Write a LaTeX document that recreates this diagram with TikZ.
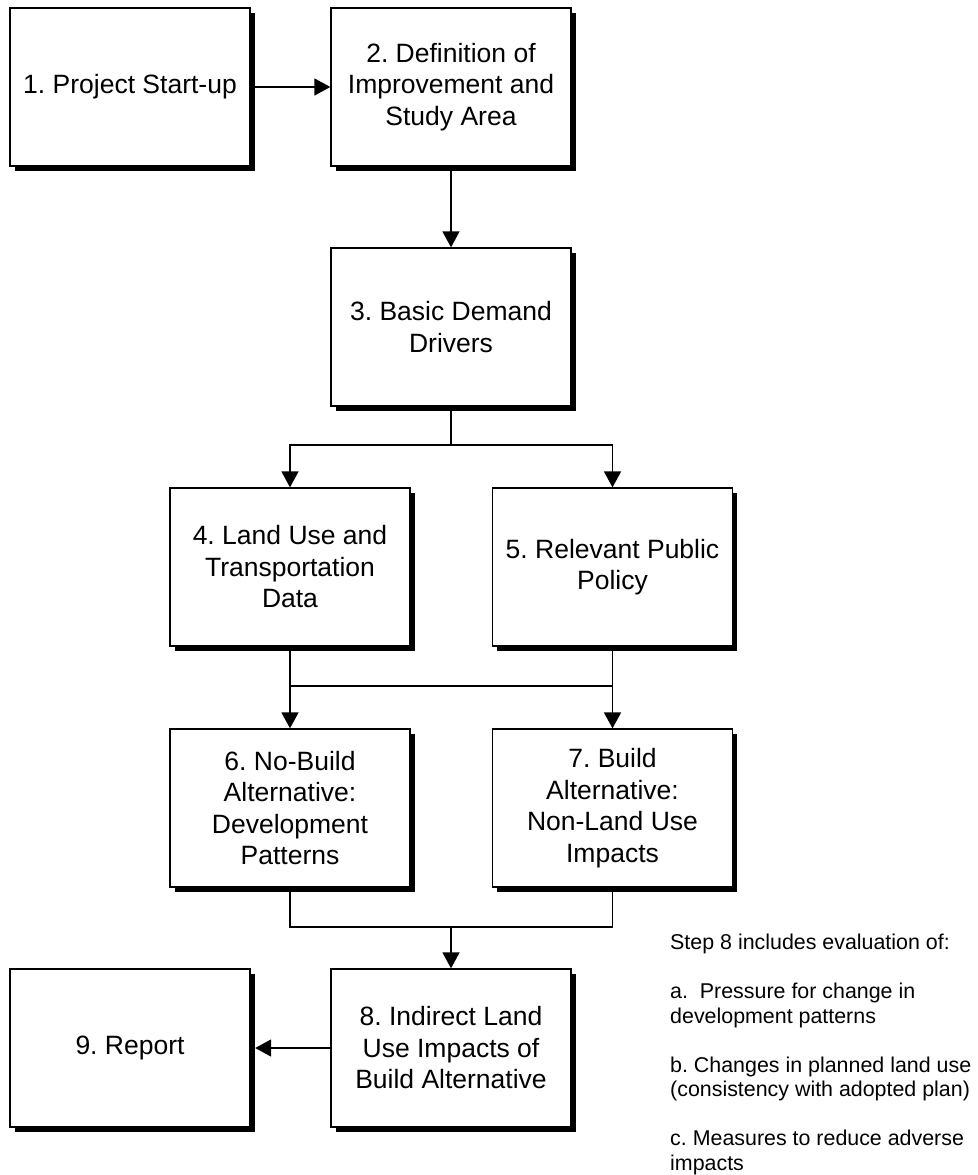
\documentclass[tikz,border=0pt]{standalone}
\usepackage{fontspec}
\setmainfont{Liberation Sans}
\frenchspacing
\usetikzlibrary{arrows.meta,shadows}
\tikzset{
  stepbox/.style={draw=black, line width=1.3pt, fill=white,
    minimum width=240pt, minimum height=158pt, inner sep=0pt,
    align=center, font=\fontsize{26.5}{31.5}\selectfont,
    general shadow={fill=black, shadow xshift=4.5pt, shadow yshift=-4.5pt}},
  conn/.style={line width=1.6pt},
  arr/.style={line width=1.6pt, -{Triangle[width=17pt,length=16pt]}},
  note/.style={inner sep=0pt, align=left, font=\fontsize{21.4}{24.5}\selectfont}
}
\begin{document}
\begin{tikzpicture}[x=1pt,y=-1pt]
\useasboundingbox (0,0) rectangle (977,1175);
\node[stepbox] (n1) at (130,87) {1. Project Start-up};
\node[stepbox] (n2) at (451,87) {2. Definition of\\Improvement and\\Study Area};
\node[stepbox] (n3) at (451,327) {3. Basic Demand\\Drivers};
\node[stepbox] (n4) at (290,567) {4. Land Use and\\Transportation\\Data};
\node[stepbox] (n5) at (612.5,567) {5. Relevant Public\\Policy};
\node[stepbox] (n6) at (290,808) {6. No-Build\\Alternative:\\Development\\Patterns};
\node[stepbox] (n7) at (612.5,808) {7. Build\\Alternative:\\Non-Land Use\\Impacts};
\node[stepbox] (n8) at (451,1048) {8. Indirect Land\\Use Impacts of\\Build Alternative};
\node[stepbox] (n9) at (130,1048) {9. Report};
\node[note, anchor=north west] (note) at (670,934) {Step 8 includes evaluation of:\\[24.5pt]a.\ \ Pressure for change in\\development patterns\\[24.5pt]b. Changes in planned land use\\(consistency with adopted plan)\\[24.5pt]c. Measures to reduce adverse\\impacts};
% junctions
\coordinate (j3) at (451,445);
\coordinate (j3l) at (290,445);
\coordinate (j3r) at (612.5,445);
\coordinate (j4l) at (290,686);
\coordinate (j4r) at (612.5,686);
\coordinate (j6l) at (290,927);
\coordinate (j6r) at (612.5,927);
\coordinate (j6m) at (451,927);
% connectors
\draw[arr] ([xshift=4.5pt]n1.east) -- (n2.west);
\draw[arr] ([yshift=-4.5pt]n2.south) -- (n3.north);
\draw[conn] ([yshift=-4.5pt]n3.south) -- (j3);
\draw[arr] (j3r) -- (j3l) -- (n4.north);
\draw[arr] (j3l) -| (n5.north);
\draw[conn] ([yshift=-4.5pt]n4.south) -- (j4l) -- (j4r);
\draw[conn] ([yshift=-4.5pt]n5.south) -- (j4r);
\draw[arr] (j4l) -- (n6.north);
\draw[arr] (j4r) -- (n7.north);
\draw[conn] ([yshift=-4.5pt]n6.south) -- (j6l) -- (j6r) -- ([yshift=-4.5pt]n7.south);
\draw[arr] (j6m) -- (n8.north);
\draw[arr] (n8.west) -- ([xshift=4.5pt]n9.east);
\end{tikzpicture}
\end{document}
